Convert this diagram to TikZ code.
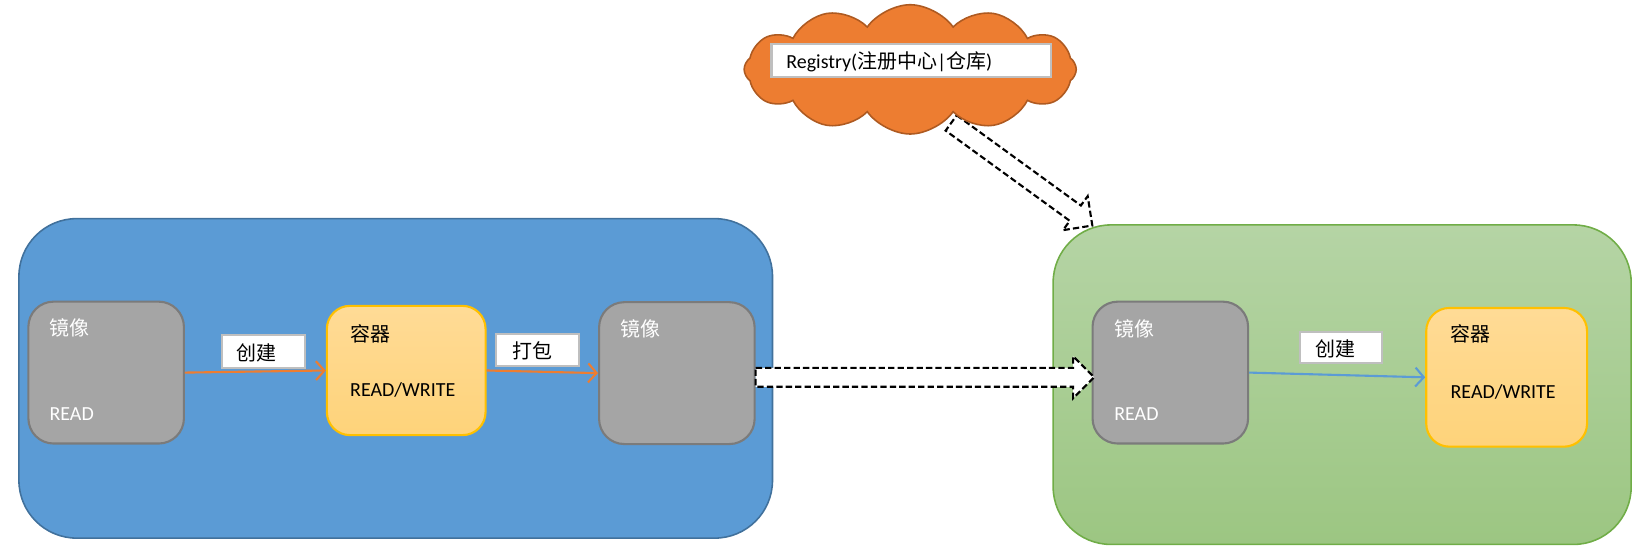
\documentclass[tikz,border=0pt]{standalone}
\usepackage{fontspec}
\setmainfont{Carlito}
\newfontfamily\cjk{Noto Sans CJK SC}
\usetikzlibrary{shapes.symbols,arrows.meta,calc}
\definecolor{bluefill}{HTML}{5B9BD5}
\definecolor{blueline}{HTML}{41719C}
\definecolor{greyfill}{HTML}{A5A5A5}
\definecolor{greyline}{HTML}{7B7B7B}
\definecolor{yelltop}{HTML}{FFDB96}
\definecolor{yellbot}{HTML}{FED37A}
\definecolor{yellline}{HTML}{FFC000}
\definecolor{greentop}{HTML}{B5D4A5}
\definecolor{greenbot}{HTML}{9CC682}
\definecolor{greenline}{HTML}{70AD47}
\definecolor{orangefill}{HTML}{ED7D31}
\definecolor{orangeline}{HTML}{AE5A21}
\definecolor{labline}{HTML}{BFBFBF}
\tikzset{
  bigblue/.style={draw=blueline, fill=bluefill, line width=1.5pt, rounded corners=55pt, inner sep=0},
  biggreen/.style={draw=greenline, top color=greentop, bottom color=greenbot, line width=1.5pt, rounded corners=55pt, inner sep=0},
  imgbox/.style={draw=greyline, fill=greyfill, line width=2pt, rounded corners=24pt, minimum width=148pt, minimum height=135pt, inner sep=0},
  conbox/.style={draw=yellline, top color=yelltop, bottom color=yellbot, line width=2pt, rounded corners=22pt, minimum width=151pt, minimum height=123pt, inner sep=0},
  lab/.style={draw=labline, fill=white, line width=2pt, minimum width=79pt, minimum height=31pt, inner sep=0},
  wtxt/.style={text=white, font=\fontsize{19pt}{22pt}\selectfont, anchor=west, inner sep=0},
  btxt/.style={text=black, font=\fontsize{19pt}{22pt}\selectfont, anchor=west, inner sep=0},
  orarr/.style={draw=orangefill, line width=2pt, -{Straight Barb[length=8pt,width=18pt,line width=2pt]}},
  bluarr/.style={draw=bluefill, line width=2pt, -{Straight Barb[length=8pt,width=18pt,line width=2pt]}},
  blockline/.style={draw=black, fill=white, dash pattern=on 6pt off 3pt, line width=2pt, line join=miter},
  barrow/.pic={\path[blockline] (0,-9) -- ({#1-20},-9) -- ({#1-20},-20) -- (#1,0) -- ({#1-20},20) -- ({#1-20},9) -- (0,9) -- cycle;},
}
\begin{document}
\begin{tikzpicture}[x=1pt,y=-1pt]
\useasboundingbox (0,0) rectangle (1568,530);
% containers
\node[bigblue, minimum width=717pt, minimum height=304pt] (blue) at (376.5,360) {};
\node[biggreen, minimum width=550pt, minimum height=304pt] (green) at (1277,366) {};
% left group
\node[imgbox] (g1) at (101,354.5) {};
\node[wtxt] (g1a) at (47,312) {\cjk 镜像};
\node[wtxt] (g1b) at (47,394) {READ};
\node[conbox] (c1) at (386.5,352.5) {};
\node[btxt] (c1a) at (333,318) {\cjk 容器};
\node[btxt] (c1b) at (333,371) {READ/WRITE};
\node[imgbox] (g2) at (644,355) {};
\node[wtxt] (g2a) at (590,313) {\cjk 镜像};
\draw[orarr] (g1.east) -- (c1.west);
\draw[orarr] (c1.east) -- (g2.west);
\node[lab] (l1) at (250.5,334.5) {};
\node[btxt, text=black] (l1t) at (225,336) {\cjk 创建};
\node[lab] (l2) at (511,333) {};
\node[btxt, text=black] (l2t) at (487,334) {\cjk 打包};
% right group
\node[imgbox] (g3) at (1113.5,354.5) {};
\node[wtxt] (g3a) at (1060,313) {\cjk 镜像};
\node[wtxt] (g3b) at (1060,394) {READ};
\node[conbox, minimum width=153pt, minimum height=132pt] (c2) at (1433.5,359) {};
\node[btxt] (c2a) at (1380,318) {\cjk 容器};
\node[btxt] (c2b) at (1380,373) {READ/WRITE};
\draw[bluarr] (g3.east) -- (c2.west);
\node[lab, minimum width=78pt, minimum height=29pt] (l3) at (1276,330.5) {};
\node[btxt] (l3t) at (1251,332) {\cjk 创建};
% block arrows
\coordinate (hstart) at ($(g2.east)+(0,4)$);
\pic at (hstart) {barrow=322};
\coordinate (dstart) at (905,117);
\pic[rotate=-36] at (dstart) {barrow=166};
% cloud
\node[cloud, cloud puffs=12, cloud puff arc=110, aspect=2.6, draw=orangeline, fill=orangefill, line width=1.5pt, minimum width=316pt, minimum height=123pt, inner sep=0] (cloud) at (866,66) {};
\node[lab, minimum width=266pt, minimum height=31pt] (reg) at (867,57.5) {};
\node[btxt] (regt) at (748,59) {Registry({\cjk 注册中心}|{\cjk 仓库})};
\end{tikzpicture}
\end{document}
